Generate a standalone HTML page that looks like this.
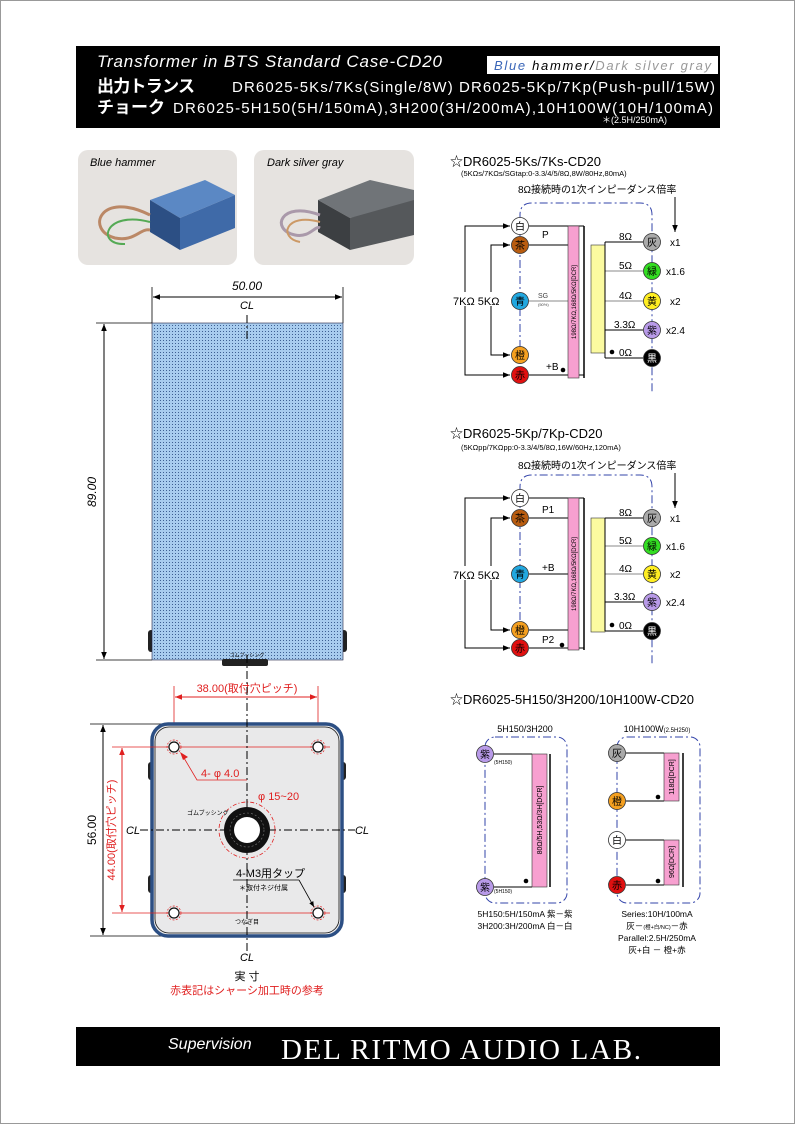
<!DOCTYPE html>
<html><head><meta charset="utf-8"><style>
html,body{margin:0;padding:0;background:#fff}
svg{display:block}
text{font-family:"Liberation Sans","Noto Sans CJK JP",sans-serif}
text.serif{font-family:"Liberation Serif",serif}
</style></head><body>
<svg width="795" height="1124" viewBox="0 0 795 1124" xmlns="http://www.w3.org/2000/svg">
<defs>
<pattern id="dots" width="3" height="3" patternUnits="userSpaceOnUse"><rect width="3" height="3" fill="#a8ccee"/><rect x="1" y="1" width="1" height="1" fill="#3d5f92"/></pattern>
<marker id="ar" viewBox="0 0 10 10" refX="10" refY="5" markerWidth="7" markerHeight="7" orient="auto-start-reverse"><path d="M0,1 L10,5 L0,9z" fill="#000"/></marker>
<marker id="arr" viewBox="0 0 10 10" refX="10" refY="5" markerWidth="7" markerHeight="7" orient="auto-start-reverse"><path d="M0,1 L10,5 L0,9z" fill="#e02020"/></marker>
</defs>
<rect x="0.5" y="0.5" width="794" height="1123" fill="#fff" stroke="#999"/>

<!-- header -->
<rect x="76" y="46" width="644" height="82" fill="#000"/>
<text x="97" y="67" font-size="17" font-style="italic" fill="#fff" textLength="345">Transformer in BTS Standard Case-CD20</text>
<rect x="487" y="56" width="231" height="18" fill="#fff"/>
<text x="494" y="70" font-size="13" font-style="italic" textLength="217"><tspan fill="#3a66b8">Blue</tspan><tspan fill="#000"> hammer/</tspan><tspan fill="#999">Dark silver gray</tspan></text>
<text x="97" y="92" font-size="17" font-weight="bold" fill="#fff" textLength="98">出力トランス</text>
<text x="232" y="92" font-size="15" fill="#fff" textLength="483">DR6025-5Ks/7Ks(Single/8W)  DR6025-5Kp/7Kp(Push-pull/15W)</text>
<text x="97" y="113" font-size="17" font-weight="bold" fill="#fff" textLength="68">チョーク</text>
<text x="173" y="113" font-size="15" fill="#fff" textLength="540">DR6025-5H150(5H/150mA),3H200(3H/200mA),10H100W(10H/100mA)</text>
<text x="602" y="123" font-size="9" fill="#fff">＊(2.5H/250mA)</text>

<!-- photos -->
<rect x="78" y="150" width="159" height="115" rx="10" fill="#e6e3e0"/>
<text x="90" y="166" font-size="11" font-style="italic">Blue hammer</text>
<polygon points="150,200 205,180 235,195 180,218" fill="#5b88c4"/>
<polygon points="150,200 180,218 180,250 150,232" fill="#2c4f84"/>
<polygon points="180,218 235,195 235,228 180,250" fill="#3f6aa8"/>
<path d="M150,215 C100,190 85,230 115,238 C135,242 140,228 150,230" fill="none" stroke="#b86" stroke-width="3"/>
<path d="M150,222 C105,210 95,245 125,244" fill="none" stroke="#5a5" stroke-width="2"/>
<rect x="254" y="150" width="160" height="115" rx="10" fill="#e6e3e0"/>
<text x="267" y="166" font-size="11" font-style="italic">Dark silver gray</text>
<polygon points="318,200 370,180 414,190 414,205 350,218" fill="#707478"/>
<polygon points="318,200 350,218 350,250 318,232" fill="#3c3f42"/>
<polygon points="350,218 414,200 414,235 350,250" fill="#55585b"/>
<path d="M320,215 C280,200 270,230 295,235 C310,238 315,225 320,228" fill="none" stroke="#a9a" stroke-width="3"/>
<path d="M320,222 C285,212 278,238 300,242" fill="none" stroke="#c96" stroke-width="2"/>

<!-- front view -->
<line x1="152" y1="287" x2="152" y2="323" stroke="#000" stroke-width="0.8"/>
<line x1="343" y1="287" x2="343" y2="323" stroke="#000" stroke-width="0.8"/>
<line x1="153" y1="297" x2="342" y2="297" stroke="#000" marker-start="url(#ar)" marker-end="url(#ar)"/>
<text x="247" y="290" font-size="12" font-style="italic" text-anchor="middle">50.00</text>
<text x="247" y="309" font-size="11" font-style="italic" text-anchor="middle">CL</text>
<line x1="96" y1="323" x2="152" y2="323" stroke="#000" stroke-width="0.8"/>
<line x1="96" y1="660" x2="152" y2="660" stroke="#000" stroke-width="0.8"/>
<line x1="104" y1="324" x2="104" y2="659" stroke="#000" marker-start="url(#ar)" marker-end="url(#ar)"/>
<text x="96" y="492" font-size="12" font-style="italic" text-anchor="middle" transform="rotate(-90 96 492)">89.00</text>
<rect x="148" y="630" width="6" height="22" rx="3" fill="#222"/>
<rect x="341" y="630" width="6" height="22" rx="3" fill="#222"/>
<rect x="152" y="323" width="191" height="337" fill="url(#dots)" stroke="#224" stroke-width="0.6"/>
<line x1="247" y1="315" x2="247" y2="340" stroke="#000" stroke-dasharray="8,3,2,3"/>
<rect x="222" y="659" width="46" height="7" rx="2" fill="#222"/>
<text x="247" y="657" font-size="5" text-anchor="middle">ゴムブッシング</text>

<!-- bottom view -->
<line x1="174" y1="686" x2="174" y2="925" stroke="#e02020" stroke-width="0.8"/>
<line x1="318" y1="686" x2="318" y2="925" stroke="#e02020" stroke-width="0.8"/>
<line x1="175" y1="697" x2="317" y2="697" stroke="#e02020" marker-start="url(#arr)" marker-end="url(#arr)"/>
<text x="247" y="692" font-size="11" fill="#e02020" text-anchor="middle">38.00(取付穴ピッチ)</text>
<line x1="90" y1="724" x2="170" y2="724" stroke="#000" stroke-width="0.8"/>
<line x1="90" y1="936" x2="165" y2="936" stroke="#000" stroke-width="0.8"/>
<line x1="103" y1="725" x2="103" y2="935" stroke="#000" marker-start="url(#ar)" marker-end="url(#ar)"/>
<text x="96" y="830" font-size="12" text-anchor="middle" transform="rotate(-90 96 830)">56.00</text>
<rect x="148" y="762" width="6" height="18" rx="3" fill="#222"/>
<rect x="148" y="875" width="6" height="18" rx="3" fill="#222"/>
<rect x="340" y="762" width="6" height="18" rx="3" fill="#222"/>
<rect x="340" y="875" width="6" height="18" rx="3" fill="#222"/>
<rect x="152" y="724" width="190" height="212" rx="16" fill="#e9e9ea" stroke="#2c4f84" stroke-width="3.5"/>
<rect x="155" y="727" width="184" height="206" rx="14" fill="none" stroke="#111" stroke-width="0.8"/>
<line x1="112" y1="747" x2="330" y2="747" stroke="#e02020" stroke-width="0.8"/>
<line x1="112" y1="913" x2="330" y2="913" stroke="#e02020" stroke-width="0.8"/>
<line x1="122" y1="748" x2="122" y2="912" stroke="#e02020" marker-start="url(#arr)" marker-end="url(#arr)"/>
<text x="115" y="830" font-size="11" fill="#e02020" text-anchor="middle" transform="rotate(-90 115 830)">44.00(取付穴ピッチ)</text>
<g fill="#fff" stroke="#111" stroke-width="1.2">
<circle cx="174" cy="747" r="5"/><circle cx="318" cy="747" r="5"/><circle cx="174" cy="913" r="5"/><circle cx="318" cy="913" r="5"/></g>
<g fill="none" stroke="#e02020" stroke-width="0.7" stroke-dasharray="2,1.5">
<circle cx="174" cy="747" r="7"/><circle cx="318" cy="747" r="7"/><circle cx="174" cy="913" r="7"/><circle cx="318" cy="913" r="7"/></g>
<line x1="247" y1="655" x2="247" y2="955" stroke="#000" stroke-dasharray="8,3,2,3"/>
<line x1="140" y1="830" x2="355" y2="830" stroke="#000" stroke-dasharray="8,3,2,3"/>
<text x="133" y="834" font-size="11" font-style="italic" text-anchor="middle">CL</text>
<text x="362" y="834" font-size="11" font-style="italic" text-anchor="middle">CL</text>
<text x="247" y="961" font-size="11" font-style="italic" text-anchor="middle">CL</text>
<polyline points="247,780 197,780 184,758" fill="none" stroke="#e02020" stroke-width="0.8"/>
<polygon points="180,752 188,757 183,760" fill="#e02020"/>
<text x="201" y="777" font-size="11" fill="#e02020">4- φ 4.0</text>
<circle cx="247" cy="830" r="28" fill="none" stroke="#e02020" stroke-width="0.8" stroke-dasharray="4,2,1,2"/>
<circle cx="247" cy="830" r="23" fill="#111"/>
<circle cx="247" cy="830" r="17" fill="none" stroke="#777" stroke-width="0.6" stroke-dasharray="2,2"/>
<circle cx="247" cy="830" r="13" fill="#fff"/>
<text x="258" y="800" font-size="11" fill="#e02020">φ 15~20</text>
<text x="187" y="815" font-size="6">ゴムブッシング</text>
<text x="236" y="877" font-size="11">4-M3用タップ</text>
<line x1="233" y1="880" x2="299" y2="880" stroke="#000" stroke-width="0.8"/>
<line x1="299" y1="880" x2="314" y2="907" stroke="#000" stroke-width="0.8" marker-end="url(#ar)"/>
<text x="239" y="890" font-size="7">＊取付ネジ付属</text>
<text x="247" y="924" font-size="6" text-anchor="middle">つなぎ目</text>
<text x="247" y="980" font-size="11" text-anchor="middle">実 寸</text>
<text x="247" y="994" font-size="11" fill="#e02020" text-anchor="middle">赤表記はシャーシ加工時の参考</text>

<!-- schematic 1 -->
<text x="450" y="166" font-size="13">☆DR6025-5Ks/7Ks-CD20</text>
<text x="461" y="176" font-size="7.5">(5KΩs/7KΩs/SGtap:0-3.3/4/5/8Ω,8W/80Hz,80mA)</text>
<text x="518" y="193" font-size="10">8Ω接続時の1次インピーダンス倍率</text>
<line x1="675" y1="197" x2="675" y2="232" stroke="#000" marker-end="url(#ar)"/>
<path d="M520,380 L520,215 Q520,203 532,203 L640,203 Q652,203 652,215 L652,392" fill="none" stroke="#3344aa" stroke-dasharray="8,3,2,3"/>
<g stroke="#000" fill="none" stroke-width="1">
<line x1="529" y1="226" x2="584" y2="226"/><line x1="529" y1="245" x2="568" y2="245"/>
<line x1="529" y1="301" x2="568" y2="301" stroke="#888"/>
<line x1="529" y1="375" x2="584" y2="375"/>
<polyline points="510,226 465,226 465,375 510,375" marker-start="url(#ar)" marker-end="url(#ar)"/>
<polyline points="510,245 491,245 491,355 510,355" marker-start="url(#ar)" marker-end="url(#ar)"/>
<line x1="584" y1="226" x2="584" y2="378" stroke-width="1.5"/>
<line x1="605" y1="242" x2="643" y2="242"/><line x1="605" y1="271" x2="643" y2="271" stroke="#888"/>
<line x1="605" y1="301" x2="643" y2="301" stroke="#888"/><line x1="605" y1="330" x2="643" y2="330"/>
<line x1="605" y1="358" x2="643" y2="358"/>
</g>
<rect x="452" y="292" width="60" height="14" fill="#fff"/>
<text x="453" y="305" font-size="11">7KΩ  5KΩ</text>
<rect x="568" y="226" width="11" height="152" fill="#f7a0d0" stroke="#333" stroke-width="0.6"/>
<text x="576" y="302" font-size="6" text-anchor="middle" transform="rotate(-90 576 302)">198Ω/7KΩ,168Ω/5KΩ[DCR]</text>
<rect x="591" y="245" width="14" height="108" fill="#fbfaa0" stroke="#333" stroke-width="0.6"/>
<line x1="605" y1="242" x2="605" y2="358" stroke="#000"/>
<text x="542" y="238" font-size="10">P</text>
<text x="538" y="298" font-size="7" fill="#444">SG</text><text x="538" y="306" font-size="4" fill="#444">(50%)</text>
<text x="546" y="370" font-size="10">+B</text>
<circle cx="563" cy="370" r="2.3" fill="#000"/>
<text x="619" y="240" font-size="10">8Ω</text><text x="619" y="269" font-size="10">5Ω</text><text x="619" y="299" font-size="10">4Ω</text><text x="614" y="328" font-size="10">3.3Ω</text>
<circle cx="612" cy="352" r="2.3" fill="#000"/><text x="619" y="356" font-size="10">0Ω</text>
<text x="670" y="246" font-size="10">x1</text><text x="666" y="275" font-size="10">x1.6</text><text x="670" y="305" font-size="10">x2</text><text x="666" y="334" font-size="10">x2.4</text>
<g stroke="#333" stroke-width="0.8" font-size="10">
<circle cx="520" cy="226" r="8.5" fill="#fff"/><circle cx="520" cy="245" r="8.5" fill="#b85c10"/><circle cx="520" cy="301" r="8.5" fill="#22a8e0"/><circle cx="520" cy="355" r="8.5" fill="#f5a020"/><circle cx="520" cy="375" r="8.5" fill="#e01010"/>
<circle cx="652" cy="242" r="8.5" fill="#aaa"/><circle cx="652" cy="271" r="8.5" fill="#33dd22"/><circle cx="652" cy="301" r="8.5" fill="#ffee22"/><circle cx="652" cy="330" r="8.5" fill="#b89ae8"/><circle cx="652" cy="358" r="8.5" fill="#000"/>
</g>
<g font-size="10" text-anchor="middle">
<text x="520" y="230">白</text><text x="520" y="249">茶</text><text x="520" y="305">青</text><text x="520" y="359">橙</text><text x="520" y="379">赤</text>
<text x="652" y="246">灰</text><text x="652" y="275">緑</text><text x="652" y="305">黄</text><text x="652" y="334">紫</text><text x="652" y="362" fill="#fff">黒</text>
</g>

<!-- schematic 2 -->
<text x="450" y="438" font-size="13">☆DR6025-5Kp/7Kp-CD20</text>
<text x="461" y="450" font-size="7.5">(5KΩpp/7KΩpp:0-3.3/4/5/8Ω,16W/60Hz,120mA)</text>
<text x="518" y="469" font-size="10">8Ω接続時の1次インピーダンス倍率</text>
<line x1="675" y1="473" x2="675" y2="508" stroke="#000" marker-end="url(#ar)"/>
<path d="M520,652 L520,487 Q520,475 532,475 L640,475 Q652,475 652,487 L652,664" fill="none" stroke="#3344aa" stroke-dasharray="8,3,2,3"/>
<g stroke="#000" fill="none" stroke-width="1">
<line x1="529" y1="498" x2="584" y2="498"/><line x1="529" y1="518" x2="568" y2="518"/>
<line x1="529" y1="574" x2="568" y2="574"/>
<line x1="529" y1="630" x2="568" y2="630"/>
<line x1="529" y1="648" x2="584" y2="648"/>
<polyline points="510,498 465,498 465,648 510,648" marker-start="url(#ar)" marker-end="url(#ar)"/>
<polyline points="510,518 491,518 491,630 510,630" marker-start="url(#ar)" marker-end="url(#ar)"/>
<line x1="584" y1="498" x2="584" y2="650" stroke-width="1.5"/>
<line x1="605" y1="518" x2="643" y2="518"/><line x1="605" y1="546" x2="643" y2="546" stroke="#888"/>
<line x1="605" y1="574" x2="643" y2="574" stroke="#888"/><line x1="605" y1="602" x2="643" y2="602"/>
<line x1="605" y1="631" x2="643" y2="631"/>
</g>
<rect x="452" y="566" width="60" height="14" fill="#fff"/>
<text x="453" y="579" font-size="11">7KΩ  5KΩ</text>
<rect x="568" y="498" width="11" height="152" fill="#f7a0d0" stroke="#333" stroke-width="0.6"/>
<text x="576" y="574" font-size="6" text-anchor="middle" transform="rotate(-90 576 574)">198Ω/7KΩ,168Ω/5KΩ[DCR]</text>
<rect x="591" y="518" width="14" height="114" fill="#fbfaa0" stroke="#333" stroke-width="0.6"/>
<line x1="605" y1="518" x2="605" y2="631" stroke="#000"/>
<text x="542" y="513" font-size="10">P1</text>
<text x="542" y="571" font-size="10">+B</text>
<text x="542" y="643" font-size="10">P2</text>
<circle cx="562" cy="645" r="2.3" fill="#000"/>
<text x="619" y="516" font-size="10">8Ω</text><text x="619" y="544" font-size="10">5Ω</text><text x="619" y="572" font-size="10">4Ω</text><text x="614" y="600" font-size="10">3.3Ω</text>
<circle cx="612" cy="625" r="2.3" fill="#000"/><text x="619" y="629" font-size="10">0Ω</text>
<text x="670" y="522" font-size="10">x1</text><text x="666" y="550" font-size="10">x1.6</text><text x="670" y="578" font-size="10">x2</text><text x="666" y="606" font-size="10">x2.4</text>
<g stroke="#333" stroke-width="0.8">
<circle cx="520" cy="498" r="8.5" fill="#fff"/><circle cx="520" cy="518" r="8.5" fill="#b85c10"/><circle cx="520" cy="574" r="8.5" fill="#22a8e0"/><circle cx="520" cy="630" r="8.5" fill="#f5a020"/><circle cx="520" cy="648" r="8.5" fill="#e01010"/>
<circle cx="652" cy="518" r="8.5" fill="#aaa"/><circle cx="652" cy="546" r="8.5" fill="#33dd22"/><circle cx="652" cy="574" r="8.5" fill="#ffee22"/><circle cx="652" cy="602" r="8.5" fill="#b89ae8"/><circle cx="652" cy="631" r="8.5" fill="#000"/>
</g>
<g font-size="10" text-anchor="middle">
<text x="520" y="502">白</text><text x="520" y="522">茶</text><text x="520" y="578">青</text><text x="520" y="634">橙</text><text x="520" y="652">赤</text>
<text x="652" y="522">灰</text><text x="652" y="550">緑</text><text x="652" y="578">黄</text><text x="652" y="606">紫</text><text x="652" y="635" fill="#fff">黒</text>
</g>

<!-- schematic 3 -->
<text x="450" y="704" font-size="13">☆DR6025-5H150/3H200/10H100W-CD20</text>
<text x="525" y="732" font-size="9" text-anchor="middle">5H150/3H200</text>
<text x="657" y="732" font-size="9" text-anchor="middle">10H100W<tspan font-size="6">(2.5H250)</tspan></text>
<rect x="485" y="737" width="82" height="166" rx="10" fill="none" stroke="#3344aa" stroke-dasharray="8,3,2,3"/>
<rect x="617" y="737" width="83" height="166" rx="10" fill="none" stroke="#3344aa" stroke-dasharray="8,3,2,3"/>
<g stroke="#000" fill="none">
<line x1="494" y1="754" x2="532" y2="754"/><line x1="494" y1="887" x2="532" y2="887"/>
<line x1="550" y1="754" x2="550" y2="887" stroke-width="1.5"/>
<line x1="626" y1="753" x2="664" y2="753"/><line x1="626" y1="801" x2="664" y2="801"/>
<line x1="626" y1="840" x2="664" y2="840"/><line x1="626" y1="885" x2="664" y2="885"/>
<line x1="683" y1="753" x2="683" y2="887" stroke-width="1.5"/>
</g>
<rect x="532" y="754" width="15" height="133" fill="#f7a0d0" stroke="#333" stroke-width="0.6"/>
<text x="542" y="820" font-size="7" text-anchor="middle" transform="rotate(-90 542 820)">80Ω/5H,53Ω/3H[DCR]</text>
<rect x="664" y="753" width="15" height="48" fill="#f7a0d0" stroke="#333" stroke-width="0.6"/>
<text x="674" y="777" font-size="7" text-anchor="middle" transform="rotate(-90 674 777)">118Ω[DCR]</text>
<rect x="664" y="840" width="15" height="45" fill="#f7a0d0" stroke="#333" stroke-width="0.6"/>
<text x="674" y="862" font-size="7" text-anchor="middle" transform="rotate(-90 674 862)">96Ω[DCR]</text>
<circle cx="526" cy="881" r="2.3" fill="#000"/><circle cx="658" cy="797" r="2.3" fill="#000"/><circle cx="658" cy="881" r="2.3" fill="#000"/>
<text x="494" y="764" font-size="5">(5H150)</text><text x="494" y="893" font-size="5">(5H150)</text>
<g stroke="#333" stroke-width="0.8">
<circle cx="485" cy="754" r="8.5" fill="#b89ae8"/><circle cx="485" cy="887" r="8.5" fill="#b89ae8"/>
<circle cx="617" cy="753" r="8.5" fill="#aaa"/><circle cx="617" cy="801" r="8.5" fill="#f5a020"/><circle cx="617" cy="840" r="8.5" fill="#fff"/><circle cx="617" cy="885" r="8.5" fill="#e01010"/>
</g>
<g font-size="10" text-anchor="middle">
<text x="485" y="758">紫</text><text x="485" y="891">紫</text>
<text x="617" y="757">灰</text><text x="617" y="805">橙</text><text x="617" y="844">白</text><text x="617" y="889">赤</text>
</g>
<g font-size="8.5" text-anchor="middle">
<text x="525" y="917">5H150:5H/150mA 紫－紫</text>
<text x="525" y="929">3H200:3H/200mA 白－白</text>
<text x="657" y="917">Series:10H/100mA</text>
<text x="657" y="929">灰－<tspan font-size="5.5">(橙+白/NC)</tspan>－赤</text>
<text x="657" y="941">Parallel:2.5H/250mA</text>
<text x="657" y="953">灰+白 － 橙+赤</text>
</g>

<!-- footer -->
<rect x="76" y="1027" width="644" height="39" fill="#000"/>
<text x="168" y="1049" font-size="16" font-style="italic" fill="#fff">Supervision</text>
<text class="serif" x="281" y="1059" font-size="29" fill="#fff" textLength="360">DEL RITMO AUDIO LAB.</text>
</svg>
</body></html>
